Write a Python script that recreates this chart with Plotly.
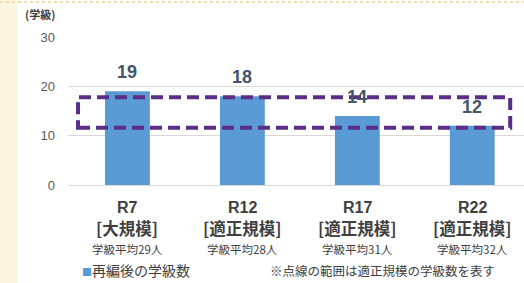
import plotly.graph_objects as go

# ---- data ----
years = ["R7", "R12", "R17", "R22"]
scales = ["[大規模]", "[適正規模]", "[適正規模]", "[適正規模]"]
averages = ["学級平均29人", "学級平均28人", "学級平均31人", "学級平均32人"]
classes = [19, 18, 14, 12]
y_ticks = [0, 10, 20, 30]
proper_range = [11.6, 17.8]   # dashed box: range of the appropriate scale
series_name = "再編後の学級数"
note_text = "※点線の範囲は適正規模の学級数を表す"
unit_text = "(学級)"

BLUE = "#5B9BD5"
PURPLE = "#5A2D86"
NUM_FONT = "Liberation Sans Narrow, Liberation Sans, Noto Sans CJK JP"
JP_FONT = "Noto Sans CJK JP"

W, H = 524, 283
L, R, T, B = 68, 0, 37, 98
PH = H - T - B  # plot height in px

xs = list(range(len(years)))
fig = go.Figure()
fig.add_trace(go.Bar(
    x=xs, y=classes, marker=dict(color=BLUE, line=dict(width=0)),
    width=0.39, name=series_name, showlegend=False, hoverinfo="skip",
))

anns = []
for i, v in enumerate(classes):
    anns.append(dict(x=i, y=v, xref="x", yref="y", text="<b>%d</b>" % v, showarrow=False,
                     yshift=19, yanchor="middle",
                     font=dict(family=NUM_FONT, size=18, color="#44546A")))
    anns.append(dict(x=i, y=-22 / PH, xref="x", yref="paper", text="<b>%s</b>" % years[i],
                     showarrow=False, yanchor="middle",
                     font=dict(family=NUM_FONT, size=16, color="#404040")))
    anns.append(dict(x=i, y=-43 / PH, xref="x", yref="paper", text="<b>%s</b>" % scales[i],
                     showarrow=False, yanchor="middle",
                     font=dict(family=JP_FONT, size=16.5, color="#404040")))
    anns.append(dict(x=i, y=-64 / PH, xref="x", yref="paper", text=averages[i],
                     showarrow=False, yanchor="middle",
                     font=dict(family=JP_FONT, size=11.5, color="#404040")))

# unit label
anns.append(dict(x=(40 - L) / (W - L - R), y=1 + (T - 14) / PH, xref="paper", yref="paper",
                 text="<b>%s</b>" % unit_text, showarrow=False, yanchor="middle",
                 xanchor="center", font=dict(family=JP_FONT, size=11, color="#404040")))
# legend-like text
anns.append(dict(x=(80 - L) / (W - L - R), y=-(270 - (T + PH)) / PH, xref="paper", yref="paper",
                 xanchor="left", yanchor="middle", showarrow=False,
                 text="<span style='color:%s;font-size:10px'>■</span>%s" % (BLUE, series_name),
                 font=dict(family=JP_FONT, size=14, color="#404040")))
anns.append(dict(x=(268 - L) / (W - L - R), y=-(270 - (T + PH)) / PH, xref="paper", yref="paper",
                 xanchor="left", yanchor="middle", showarrow=False, text=note_text,
                 font=dict(family=JP_FONT, size=12.5, color="#404040")))

shapes = [
    # faint beige stripe at left border
    dict(type="rect", xref="paper", yref="paper", x0=-L / (W - L), x1=(18 - L) / (W - L),
         y0=-B / PH, y1=1 + T / PH, fillcolor="#FCF5E0", line=dict(width=0), layer="below"),
    # faint dotted top border
    dict(type="line", xref="paper", yref="paper", x0=-L / (W - L), x1=1,
         y0=1 + (T - 2) / PH, y1=1 + (T - 2) / PH,
         line=dict(color="#F6DDB0", width=2, dash="dot"), layer="below"),
    # dashed box of the appropriate range
    dict(type="rect", xref="x", yref="y", x0=-0.43, x1=3.33,
         y0=proper_range[0], y1=proper_range[1],
         line=dict(color=PURPLE, width=4, dash="12px,6px"), fillcolor="rgba(0,0,0,0)",
         layer="above"),
]

fig.update_layout(
    width=W, height=H, margin=dict(l=L, r=R, t=T, b=B),
    paper_bgcolor="white", plot_bgcolor="white",
    annotations=anns, shapes=shapes, showlegend=False, bargap=0.6,
    xaxis=dict(range=[-0.517, 3.45], showticklabels=False, showgrid=False,
               zeroline=False, showline=False, fixedrange=True),
    yaxis=dict(range=[0, 30], tickvals=y_ticks, showgrid=True, gridcolor="#D9D9D9",
               gridwidth=1, zeroline=True, zerolinecolor="#D9D9D9", zerolinewidth=1,
               showline=False, ticklabelstandoff=12,
               tickfont=dict(family=NUM_FONT, size=13, color="#595959"), fixedrange=True),
)

fig.write_html("out.html", config={"displayModeBar": False},
               post_script="document.body.style.margin='0';document.body.style.overflow='hidden';")
